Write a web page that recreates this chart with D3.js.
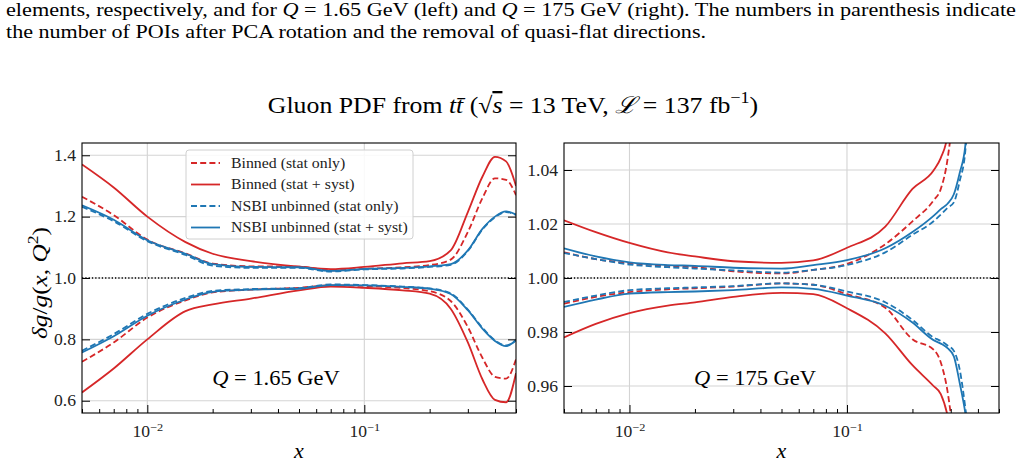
<!DOCTYPE html>
<html>
<head>
<meta charset="utf-8">
<script src="https://cdn.jsdelivr.net/npm/d3@7"></script>
<style>
  body { margin: 0; background: #fff; }
  svg { display: block; font-family: "Liberation Serif", "DejaVu Serif", serif; }
</style>
</head>
<body>
<div id="chart"></div>
<script>
const xLeft = [0.005, 0.007, 0.01, 0.015, 0.02, 0.03, 0.05, 0.07, 0.1, 0.15, 0.2, 0.25, 0.3, 0.35, 0.4, 0.45, 0.5];
const xRight = [0.005, 0.007, 0.01, 0.015, 0.02, 0.03, 0.05, 0.07, 0.1, 0.15, 0.2, 0.25, 0.27, 0.29, 0.31, 0.33, 0.35, 0.37];

// Q = 1.65 GeV
const leftBinnedStatUp   = [1.265, 1.205, 1.125, 1.08, 1.047, 1.038, 1.037, 1.025, 1.03, 1.035, 1.042, 1.06, 1.15, 1.26, 1.325, 1.32, 1.27];
const leftBinnedStatLo   = [0.727, 0.79, 0.871, 0.927, 0.953, 0.962, 0.968, 0.976, 0.974, 0.967, 0.957, 0.925, 0.84, 0.74, 0.678, 0.672, 0.735];
const leftBinnedSystUp   = [1.37, 1.295, 1.20, 1.117, 1.079, 1.055, 1.037, 1.029, 1.036, 1.048, 1.055, 1.09, 1.215, 1.33, 1.395, 1.38, 1.30];
const leftBinnedSystLo   = [0.627, 0.705, 0.80, 0.892, 0.914, 0.933, 0.96, 0.972, 0.968, 0.96, 0.949, 0.90, 0.79, 0.67, 0.603, 0.595, 0.69];
const leftNsbiStatUp     = [1.232, 1.185, 1.12, 1.075, 1.04, 1.033, 1.033, 1.021, 1.028, 1.031, 1.036, 1.043, 1.088, 1.158, 1.198, 1.215, 1.205];
const leftNsbiStatLo     = [0.763, 0.817, 0.883, 0.935, 0.958, 0.964, 0.967, 0.979, 0.977, 0.972, 0.966, 0.95, 0.897, 0.838, 0.797, 0.78, 0.798];
const leftNsbiSystUp     = [1.237, 1.19, 1.123, 1.079, 1.045, 1.036, 1.035, 1.023, 1.03, 1.033, 1.038, 1.045, 1.09, 1.16, 1.20, 1.217, 1.207];
const leftNsbiSystLo     = [0.757, 0.81, 0.877, 0.93, 0.955, 0.962, 0.965, 0.977, 0.976, 0.971, 0.965, 0.948, 0.895, 0.835, 0.795, 0.778, 0.797];

// Q = 175 GeV
const rightBinnedStatUp  = [1.0095, 1.007, 1.0055, 1.0045, 1.004, 1.0025, 1.0017, 1.003, 1.0052, 1.0125, 1.021, 1.0287, 1.033, 1.044, 1.065, 1.10, 1.13, 1.16];
const rightBinnedStatLo  = [0.9905, 0.993, 0.9948, 0.9958, 0.9962, 0.9968, 0.998, 0.9975, 0.994, 0.989, 0.9773, 0.9735, 0.9687, 0.958, 0.94, 0.92, 0.90, 0.88];
const rightBinnedSystUp  = [1.0214, 1.017, 1.013, 1.0095, 1.008, 1.0062, 1.0056, 1.0065, 1.0112, 1.019, 1.033, 1.0398, 1.0445, 1.053, 1.08, 1.11, 1.14, 1.16];
const rightBinnedSystLo  = [0.978, 0.983, 0.987, 0.9898, 0.991, 0.993, 0.9945, 0.994, 0.9888, 0.9795, 0.9677, 0.96, 0.957, 0.949, 0.935, 0.91, 0.89, 0.87];
const rightNsbiStatUp    = [1.0093, 1.007, 1.005, 1.004, 1.0035, 1.0028, 1.002, 1.003, 1.0048, 1.0095, 1.016, 1.021, 1.0235, 1.026, 1.028, 1.036, 1.047, 1.08];
const rightNsbiStatLo    = [0.9911, 0.9935, 0.9955, 0.9962, 0.9965, 0.997, 0.998, 0.9975, 0.995, 0.991, 0.9845, 0.978, 0.9767, 0.975, 0.973, 0.966, 0.952, 0.935];
const rightNsbiSystUp    = [1.011, 1.008, 1.0058, 1.0048, 1.0045, 1.0038, 1.0035, 1.0048, 1.0066, 1.011, 1.017, 1.023, 1.0255, 1.0275, 1.031, 1.039, 1.049, 1.08];
const rightNsbiSystLo    = [0.9893, 0.992, 0.9942, 0.9948, 0.995, 0.9955, 0.9965, 0.996, 0.9935, 0.9897, 0.9835, 0.977, 0.9757, 0.974, 0.971, 0.961, 0.95, 0.935];

const xMajorTicks = [0.01, 0.1];
const xMajorLabels = ['\u22122', '\u22121'];
const leftYTicks = [0.6, 0.8, 1.0, 1.2, 1.4];
const rightYTicks = [0.96, 0.98, 1.00, 1.02, 1.04];
const legendLabels = ['Binned (stat only)', 'Binned (stat + syst)', 'NSBI unbinned (stat only)', 'NSBI unbinned (stat + syst)'];

const red = '#d62728', blue = '#1f77b4';
const W = 1032, H = 462;

const svg = d3.select('#chart').append('svg').attr('width', W).attr('height', H);

// writes text made of parts: {t, it, sup, over}
function mathText(text, parts, size) {
    let cur = 0;
    parts.forEach(function(p) {
        let ts = text.append('tspan').text(p.t);
        if (p.it) ts.style('font-style', 'italic');
        if (p.over) ts.style('text-decoration', 'overline');
        let target = p.sup ? -0.42 * size : 0;
        if (p.sup) ts.style('font-size', (size * 0.7) + 'px');
        if (target !== cur) ts.attr('dy', target - cur);
        cur = target;
    });
    return text;
}

// the original uses Computer Modern, which runs wider than Times
function widen(sel, factor) {
    sel.each(function() {
        let len = this.getComputedTextLength();
        d3.select(this).attr('textLength', len * factor).attr('lengthAdjust', 'spacingAndGlyphs');
    });
}

// paragraph text at the top
mathText(svg.append('text').attr('x', 6).attr('y', 16).attr('font-size', 18)
    .attr('textLength', 1010).attr('lengthAdjust', 'spacingAndGlyphs'), [
    {t: 'elements, respectively, and for '}, {t: 'Q', it: true}, {t: ' = 1.65 GeV (left) and '},
    {t: 'Q', it: true}, {t: ' = 175 GeV (right).  The numbers in parenthesis indicate'}
], 18);
svg.append('text').attr('x', 6).attr('y', 38).attr('font-size', 18)
    .attr('textLength', 700).attr('lengthAdjust', 'spacingAndGlyphs')
    .text('the number of POIs after PCA rotation and the removal of quasi-flat directions.');

// title
let title = mathText(svg.append('text').attr('x', 513).attr('y', 113).attr('font-size', 23).attr('text-anchor', 'middle'), [
    {t: 'Gluon PDF from '}, {t: 'tt\u0304', it: true}, {t: ' (\u221A'}, {t: 's', it: true, over: true},
    {t: ' = 13 TeV, '}, {t: '\u2112', it: true}, {t: ' = 137 fb'}, {t: '\u22121', sup: true}, {t: ')'}
], 23);
widen(title, 1.12);

function drawPanel(cfg) {
    let pw = cfg.width, ph = cfg.height;
    let g = svg.append('g').attr('transform', 'translate(' + cfg.left + ',' + cfg.top + ')');

    let x = d3.scaleLog().domain([0.005, 0.5]).range([0, pw]);
    let y = d3.scaleLinear().domain(cfg.yDomain).range([ph, 0]);

    g.append('clipPath').attr('id', cfg.id).append('rect').attr('width', pw).attr('height', ph);

    // grid
    g.selectAll('.gx').data(xMajorTicks).enter().append('line')
        .attr('x1', d => x(d)).attr('x2', d => x(d)).attr('y1', 0).attr('y2', ph)
        .attr('stroke', '#d4d4d4').attr('stroke-width', 1.1);
    g.selectAll('.gy').data(cfg.yTicks).enter().append('line')
        .attr('x1', 0).attr('x2', pw).attr('y1', d => y(d)).attr('y2', d => y(d))
        .attr('stroke', '#d4d4d4').attr('stroke-width', 1.1);

    // reference line at 1
    g.append('line').attr('x1', 0).attr('x2', pw).attr('y1', y(1)).attr('y2', y(1))
        .attr('stroke', '#000').attr('stroke-width', 1.3).attr('stroke-dasharray', '1.3,2');

    let line = d3.line()
        .x(d => x(d[0]))
        .y(d => y(d[1]))
        .curve(d3.curveMonotoneX);

    let curves = g.append('g').attr('clip-path', 'url(#' + cfg.id + ')');
    cfg.series.forEach(function(s) {
        [s.up, s.lo].forEach(function(vals) {
            curves.append('path')
                .datum(cfg.xs.map((xv, i) => [xv, vals[i]]))
                .attr('d', line)
                .attr('fill', 'none')
                .attr('stroke', s.color)
                .attr('stroke-width', 1.8)
                .attr('stroke-dasharray', s.dashed ? '6,3.2' : null);
        });
    });

    // frame
    g.append('rect').attr('width', pw).attr('height', ph)
        .attr('fill', 'none').attr('stroke', '#000').attr('stroke-width', 1.1);

    // ticks, all pointing inwards
    let minor = [];
    [0.001, 0.01, 0.1].forEach(function(dec) {
        for (let k = 2; k <= 9; k++) {
            let v = k * dec;
            if (v >= 0.005 && v <= 0.5) minor.push(v);
        }
    });
    g.append('g').attr('transform', 'translate(0,' + ph + ')')
        .call(d3.axisBottom(x).tickValues(minor).tickSize(-4).tickFormat(''))
        .call(a => a.select('.domain').remove());
    let xAxis = g.append('g').attr('transform', 'translate(0,' + ph + ')')
        .call(d3.axisBottom(x).tickValues(xMajorTicks).tickSize(-8).tickPadding(10).tickFormat(''));
    xAxis.attr('font-family', null).attr('font-size', null);
    xAxis.select('.domain').remove();
    xAxis.selectAll('.tick text').each(function(d, i) {
        let t = d3.select(this).text(null).attr('font-size', 16).attr('fill', '#222').attr('dy', '0.9em');
        mathText(t, [{t: '10'}, {t: xMajorLabels[i], sup: true}], 16);
        widen(t, 1.1);
    });

    let yAxis = g.append('g')
        .call(d3.axisLeft(y).tickValues(cfg.yTicks).tickSize(-8).tickPadding(6).tickFormat(cfg.yFormat));
    yAxis.attr('font-family', null).attr('font-size', null);
    yAxis.select('.domain').remove();
    yAxis.selectAll('text').attr('font-size', 16).attr('fill', '#222');
    widen(yAxis.selectAll('text'), 1.1);
    g.append('g').attr('transform', 'translate(' + pw + ',0)')
        .call(d3.axisRight(y).tickValues(cfg.yTicks).tickSize(-8).tickFormat(''))
        .call(a => a.select('.domain').remove());

    g.selectAll('.tick line').attr('stroke', '#000').attr('stroke-width', 1);

    // x label
    g.append('text').attr('x', pw / 2).attr('y', ph + 45).attr('text-anchor', 'middle')
        .attr('font-size', 22).style('font-style', 'italic').text('x');

    // Q annotation
    let q = mathText(g.append('text').attr('x', cfg.qx).attr('y', ph - 28).attr('text-anchor', 'middle').attr('font-size', 21),
        [{t: 'Q', it: true}, {t: ' = ' + cfg.qLabel}], 21);
    widen(q, 1.07);

    return {g: g, x: x, y: y};
}

const leftSeries = [
    {up: leftBinnedStatUp, lo: leftBinnedStatLo, color: red, dashed: true},
    {up: leftBinnedSystUp, lo: leftBinnedSystLo, color: red, dashed: false},
    {up: leftNsbiStatUp, lo: leftNsbiStatLo, color: blue, dashed: true},
    {up: leftNsbiSystUp, lo: leftNsbiSystLo, color: blue, dashed: false}
];
const rightSeries = [
    {up: rightBinnedStatUp, lo: rightBinnedStatLo, color: red, dashed: true},
    {up: rightBinnedSystUp, lo: rightBinnedSystLo, color: red, dashed: false},
    {up: rightNsbiStatUp, lo: rightNsbiStatLo, color: blue, dashed: true},
    {up: rightNsbiSystUp, lo: rightNsbiSystLo, color: blue, dashed: false}
];

let leftPanel = drawPanel({
    id: 'clipL', left: 82, top: 143, width: 434, height: 270,
    yDomain: [0.56, 1.44], yTicks: leftYTicks, yFormat: d3.format('.1f'),
    xs: xLeft, series: leftSeries, qx: 194, qLabel: '1.65 GeV'
});
drawPanel({
    id: 'clipR', left: 564, top: 143, width: 435, height: 270,
    yDomain: [0.95, 1.05], yTicks: rightYTicks, yFormat: d3.format('.2f'),
    xs: xRight, series: rightSeries, qx: 191, qLabel: '175 GeV'
});

// y label
let ylab = mathText(svg.append('text').attr('transform', 'translate(47,283) rotate(-90)')
    .attr('text-anchor', 'middle').attr('font-size', 22), [
    {t: '\u03B4g', it: true}, {t: '/'}, {t: 'g', it: true}, {t: '('}, {t: 'x', it: true}, {t: ', '},
    {t: 'Q', it: true}, {t: '2', sup: true}, {t: ')'}
], 22);
widen(ylab, 1.15);

// legend
let legend = leftPanel.g.append('g').attr('transform', 'translate(104,7)');
legend.append('rect').attr('width', 227).attr('height', 89).attr('rx', 3)
    .attr('fill', '#fff').attr('fill-opacity', 0.85).attr('stroke', '#d0d0d0');
let item = legend.selectAll('.legend_item').data(leftSeries).enter().append('g')
    .attr('class', 'legend_item')
    .attr('transform', (d, i) => 'translate(0,' + (13 + i * 21.5) + ')');
item.append('line').attr('x1', 5).attr('x2', 34)
    .attr('stroke', d => d.color).attr('stroke-width', 1.8)
    .attr('stroke-dasharray', d => d.dashed ? '6,3.2' : null);
widen(item.append('text').attr('x', 45).attr('dy', '0.35em').attr('font-size', 14).attr('fill', '#222')
    .text((d, i) => legendLabels[i]), 1.13);
</script>
</body>
</html>
